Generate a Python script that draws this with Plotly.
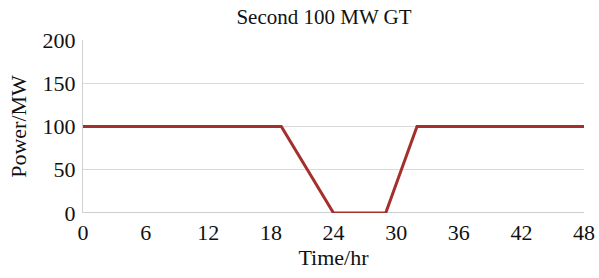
import plotly.graph_objects as go

time_hr = [0, 19, 24, 29, 32, 48]
power_mw = [100, 100, 0, 0, 100, 100]
x_ticks = [0, 6, 12, 18, 24, 30, 36, 42, 48]
y_ticks = [0, 50, 100, 150, 200]

FAM = "Liberation Serif"
tick_font = dict(family=FAM, color="#111", size=22)
title_font = dict(family=FAM, color="#111", size=22)

W, H = 599, 278

fig = go.Figure()
fig.add_trace(go.Scatter(x=time_hr, y=power_mw, mode="lines",
                         line=dict(color="#A3302C", width=3), showlegend=False))
fig.update_layout(
    width=W, height=H,
    margin=dict(l=83, r=15, t=40, b=65, autoexpand=False),
    paper_bgcolor="white", plot_bgcolor="white",
    font=dict(family=FAM, color="#111", size=22),
    title=dict(text="Second 100 MW GT", x=324 / W, xanchor="center", xref="container",
               y=1 - 17 / H, yanchor="middle", yref="container",
               font=dict(size=21, family=FAM, color="#111")),
    xaxis=dict(range=[0, 48], tickvals=x_ticks, showgrid=False, zeroline=False,
               showline=False, ticks="", tickfont=tick_font, automargin=False,
               ticklabelstandoff=4,
               title=dict(text="Time/hr", font=title_font, standoff=1)),
    yaxis=dict(range=[0, 200], tickvals=y_ticks, showgrid=True, gridcolor="#D9D9D9",
               zeroline=False, showline=True, linecolor="#D0D0D0", ticks="",
               tickfont=tick_font, automargin=False, ticklabelstandoff=2,
               title=dict(text="Power/MW", font=title_font, standoff=9)),
)
fig.add_shape(type="line", xref="paper", yref="y", x0=0, x1=1, y0=0, y1=0,
              line=dict(color="#BFBFBF", width=1.5), layer="below")
fig.write_html("out.html", config={"displayModeBar": False},
               post_script="document.body.style.margin='0';document.body.style.overflow='hidden';")
